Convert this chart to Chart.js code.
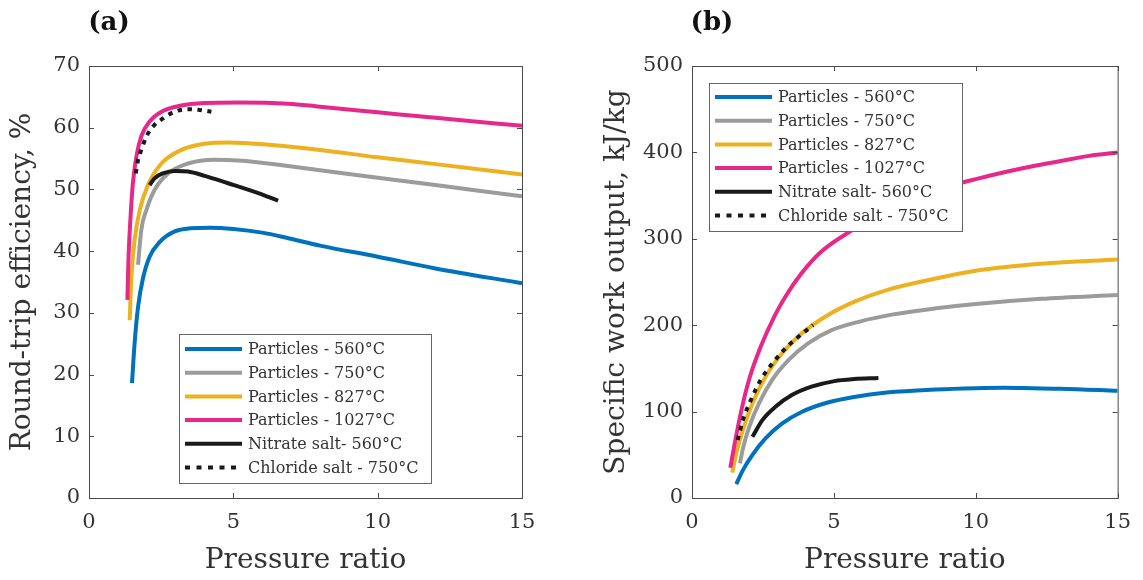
<!DOCTYPE html>
<html>
<head>
<meta charset="utf-8">
<script src="https://cdn.jsdelivr.net/npm/chart.js@4.4.1/dist/chart.umd.min.js"></script>
<style>
  html, body { margin: 0; padding: 0; background: #fff; }
  #wrap { position: relative; width: 1143px; height: 580px; }
  .panel { position: absolute; top: 0; height: 580px; }
  #pa { left: 0; width: 571px; }
  #pb { left: 571px; width: 572px; }
</style>
</head>
<body>
<div id="wrap">
  <div class="panel" id="pa"><canvas id="chartA"></canvas></div>
  <div class="panel" id="pb"><canvas id="chartB"></canvas></div>
</div>
<script>
// series names (same in both panels)
const seriesLabels = [
  "Particles - 560°C",
  "Particles - 750°C",
  "Particles - 827°C",
  "Particles - 1027°C",
  "Nitrate salt- 560°C",
  "Chloride salt - 750°C",
];
const seriesColors = ["#0072bd", "#9b9b9b", "#edb120", "#e6288a", "#1a1a1a", "#1a1a1a"];

// (a) round-trip efficiency, %
const effP560X = [1.49, 1.58, 1.70, 1.87, 2.10, 2.45, 2.97, 3.5, 4.2, 5.0, 6.0, 6.9, 8, 10, 12, 15];
const effP560Y = [18.6, 25.1, 31.0, 35.6, 39.1, 41.5, 43.2, 43.7, 43.8, 43.6, 43.0, 42.1, 40.9, 39.1, 37.2, 34.8];
const effP750X = [1.70, 1.81, 1.99, 2.27, 2.74, 3.43, 4.35, 5.16, 6.9, 8, 10, 12, 15];
const effP750Y = [37.8, 43.4, 46.7, 49.9, 52.6, 54.2, 54.8, 54.7, 53.8, 53.1, 51.9, 50.7, 48.9];
const effP827X = [1.41, 1.47, 1.58, 1.76, 2.04, 2.51, 3.20, 4.01, 4.82, 6.32, 8, 10, 12, 15];
const effP827Y = [28.8, 35.9, 41.8, 46.7, 50.7, 54.2, 56.4, 57.4, 57.6, 57.2, 56.4, 55.2, 54.1, 52.4];
const effP1027X = [1.33, 1.37, 1.44, 1.52, 1.64, 1.81, 2.10, 2.51, 3.20, 4.01, 5.16, 6.9, 8, 10, 12, 15];
const effP1027Y = [32.1, 39.1, 45.6, 51.0, 55.3, 58.6, 61.0, 62.6, 63.6, 64.0, 64.1, 63.9, 63.4, 62.5, 61.6, 60.3];
const effNitX = [2.10, 2.27, 2.56, 2.97, 3.43, 4.01, 4.82, 5.74, 6.55];
const effNitY = [50.7, 51.8, 52.6, 53.0, 52.9, 52.2, 51.0, 49.6, 48.2];
const effChlX = [1.62, 1.70, 1.81, 1.99, 2.22, 2.56, 2.97, 3.43, 3.78, 4.24];
const effChlY = [52.6, 54.8, 56.4, 58.6, 60.2, 61.5, 62.6, 63.0, 62.9, 62.6];

// (b) specific work output, kJ/kg
const wP560X = [1.56, 1.79, 2.13, 2.59, 3.17, 3.86, 4.78, 5.71, 6.86, 8.59, 10, 11, 12, 13, 15];
const wP560Y = [16, 32, 50, 69, 86, 99.5, 110.5, 117, 122, 125.5, 127, 127.5, 127, 126.5, 124];
const wP750X = [1.69, 1.80, 2.02, 2.36, 2.82, 3.40, 4.09, 4.90, 5.94, 7.09, 8.59, 10, 12.3, 15];
const wP750Y = [40, 58, 82.5, 109.5, 136.5, 159.6, 178.9, 194, 204.5, 212.5, 219.5, 224.5, 230.5, 235];
const wP827X = [1.42, 1.56, 1.79, 2.13, 2.59, 3.17, 3.86, 4.78, 5.71, 6.86, 8.59, 10, 12.3, 15];
const wP827Y = [29.3, 51.7, 78.6, 109.5, 140.3, 167.3, 190.4, 211.6, 227, 240.6, 254, 263, 271, 276];
const wP1027X = [1.35, 1.50, 1.73, 2.02, 2.42, 2.90, 3.29, 3.86, 4.55, 5.65, 6.5, 7.5, 8.5, 9.32, 10, 11, 12, 13, 14, 15];
const wP1027Y = [35, 62, 100, 138, 175, 210, 233, 260, 285, 310, 326, 341, 354, 363, 369, 377, 384, 390, 396, 400];
const wNitX = [2.13, 2.48, 2.94, 3.52, 4.21, 5.02, 5.71, 6.57];
const wNitY = [70.9, 90.2, 105.6, 119.1, 128.8, 135.3, 137.6, 138.8];
const wChlX = [1.61, 1.79, 2.07, 2.42, 2.83, 3.29, 3.75, 4.27];
const wChlY = [67, 90, 113, 136.5, 155.7, 173, 186.6, 200];

// axes
const xMin = 0, xMax = 15, xStep = 5;
const effMax = 70, effStep = 10;
const workMax = 500, workStep = 100;

const serif = "'DejaVu Serif', 'Liberation Serif', serif";
const textColor = "#333";

function pts(xs, ys) {
  return xs.map((x, i) => ({ x, y: ys[i] }));
}

function makeDatasets(pairs) {
  return pairs.map(([xs, ys], i) => ({
    label: seriesLabels[i],
    data: pts(xs, ys),
    borderColor: seriesColors[i],
    borderWidth: 4,
    borderDash: i === 5 ? [4.5, 5.5] : [],
    borderCapStyle: "butt",
    pointRadius: 0,
    cubicInterpolationMode: "monotone",
    fill: false,
    order: 6 - i,
  }));
}

// MATLAB style box with inward ticks on all four sides
const axesBox = {
  id: "axesBox",
  afterDraw(chart) {
    const { ctx, chartArea: a, scales } = chart;
    const tl = 5;
    ctx.save();
    ctx.strokeStyle = "#4a4a4a";
    ctx.lineWidth = 1;
    ctx.strokeRect(a.left + 0.5, a.top + 0.5, a.right - a.left, a.bottom - a.top);
    ctx.beginPath();
    scales.x.ticks.forEach((t) => {
      const px = Math.round(scales.x.getPixelForValue(t.value)) + 0.5;
      ctx.moveTo(px, a.bottom); ctx.lineTo(px, a.bottom - tl);
      ctx.moveTo(px, a.top); ctx.lineTo(px, a.top + tl);
    });
    scales.y.ticks.forEach((t) => {
      const py = Math.round(scales.y.getPixelForValue(t.value)) + 0.5;
      ctx.moveTo(a.left, py); ctx.lineTo(a.left + tl, py);
      ctx.moveTo(a.right, py); ctx.lineTo(a.right - tl, py);
    });
    ctx.stroke();
    ctx.restore();
  },
};

// legend drawn inside the axes, white box with thin border
const boxLegend = {
  id: "boxLegend",
  afterDatasetsDraw(chart, args, opts) {
    const { ctx, chartArea } = chart;
    const x0 = Math.round(chartArea.left + opts.dx);
    const y0 = Math.round(chartArea.top + opts.dy);
    ctx.save();
    ctx.fillStyle = "#fff";
    ctx.fillRect(x0, y0, opts.w, opts.h);
    ctx.strokeStyle = "#666";
    ctx.lineWidth = 1;
    ctx.strokeRect(x0 + 0.5, y0 + 0.5, opts.w, opts.h);
    ctx.font = `16px ${serif}`;
    ctx.textBaseline = "middle";
    ctx.textAlign = "left";
    chart.data.datasets.forEach((ds, i) => {
      const y = y0 + opts.first + i * opts.rowH;
      ctx.strokeStyle = ds.borderColor;
      ctx.lineWidth = 4;
      ctx.lineCap = "butt";
      ctx.setLineDash(ds.borderDash.length ? [5, 6.5] : []);
      ctx.beginPath();
      ctx.moveTo(x0 + 6, y);
      ctx.lineTo(x0 + 63, y);
      ctx.stroke();
      ctx.setLineDash([]);
      ctx.fillStyle = textColor;
      ctx.fillText(ds.label, x0 + 69, y + 1);
    });
    ctx.restore();
  },
};

const panelTag = {
  id: "panelTag",
  afterDraw(chart, args, opts) {
    const { ctx, chartArea } = chart;
    ctx.save();
    ctx.font = `bold 26px ${serif}`;
    ctx.fillStyle = "#111";
    ctx.textAlign = "center";
    ctx.textBaseline = "middle";
    ctx.fillText(opts.text, chartArea.left + 20, 23);
    ctx.restore();
  },
};

function makeChart(canvasId, cfg) {
  return new Chart(document.getElementById(canvasId), {
    type: "line",
    data: { datasets: makeDatasets(cfg.pairs) },
    options: {
      responsive: true,
      maintainAspectRatio: false,
      animation: false,
      layout: { padding: { top: 66, right: cfg.padRight, left: 0, bottom: 0 } },
      plugins: {
        legend: { display: false },
        tooltip: { enabled: false },
        boxLegend: cfg.legend,
        panelTag: { text: cfg.tag },
      },
      scales: {
        x: {
          type: "linear",
          min: xMin,
          max: xMax,
          afterFit: (s) => { s.height = 82; },
          afterBuildTicks: (s) => {
            const t = [];
            for (let v = xMin; v <= xMax; v += xStep) t.push({ value: v });
            s.ticks = t;
          },
          grid: { display: false, drawTicks: false },
          border: { display: false },
          ticks: { color: textColor, font: { family: serif, size: 21 }, padding: 12, maxRotation: 0 },
          title: {
            display: true,
            text: "Pressure ratio",
            color: textColor,
            font: { family: serif, size: 28 },
            padding: { top: 0, bottom: 2 },
          },
        },
        y: {
          type: "linear",
          min: 0,
          max: cfg.yMax,
          afterFit: (s) => { s.width = cfg.yWidth; },
          afterBuildTicks: (s) => {
            const t = [];
            for (let v = 0; v <= cfg.yMax; v += cfg.yStep) t.push({ value: v });
            s.ticks = t;
          },
          grid: { display: false, drawTicks: false },
          border: { display: false },
          ticks: { color: textColor, font: { family: serif, size: 21 }, padding: 9 },
          title: {
            display: true,
            text: cfg.yTitle,
            color: textColor,
            font: { family: serif, size: 28 },
            padding: { top: cfg.yTitlePad, bottom: 0 },
          },
        },
      },
    },
    plugins: [boxLegend, axesBox, panelTag],
  });
}

makeChart("chartA", {
  tag: "(a)",
  pairs: [
    [effP560X, effP560Y], [effP750X, effP750Y], [effP827X, effP827Y],
    [effP1027X, effP1027Y], [effNitX, effNitY], [effChlX, effChlY],
  ],
  yMax: effMax,
  yStep: effStep,
  yTitle: "Round-trip efficiency, %",
  yWidth: 89,
  yTitlePad: 6,
  padRight: 49,
  legend: { dx: 90, dy: 268, w: 252, h: 149, first: 15, rowH: 23.7 },
});

makeChart("chartB", {
  tag: "(b)",
  pairs: [
    [wP560X, wP560Y], [wP750X, wP750Y], [wP827X, wP827Y],
    [wP1027X, wP1027Y], [wNitX, wNitY], [wChlX, wChlY],
  ],
  yMax: workMax,
  yStep: workStep,
  yTitle: "Specific work output, kJ/kg",
  yWidth: 121,
  yTitlePad: 29,
  padRight: 18,
  legend: { dx: 17, dy: 17, w: 253, h: 148, first: 14, rowH: 23.7 },
});
</script>
</body>
</html>
